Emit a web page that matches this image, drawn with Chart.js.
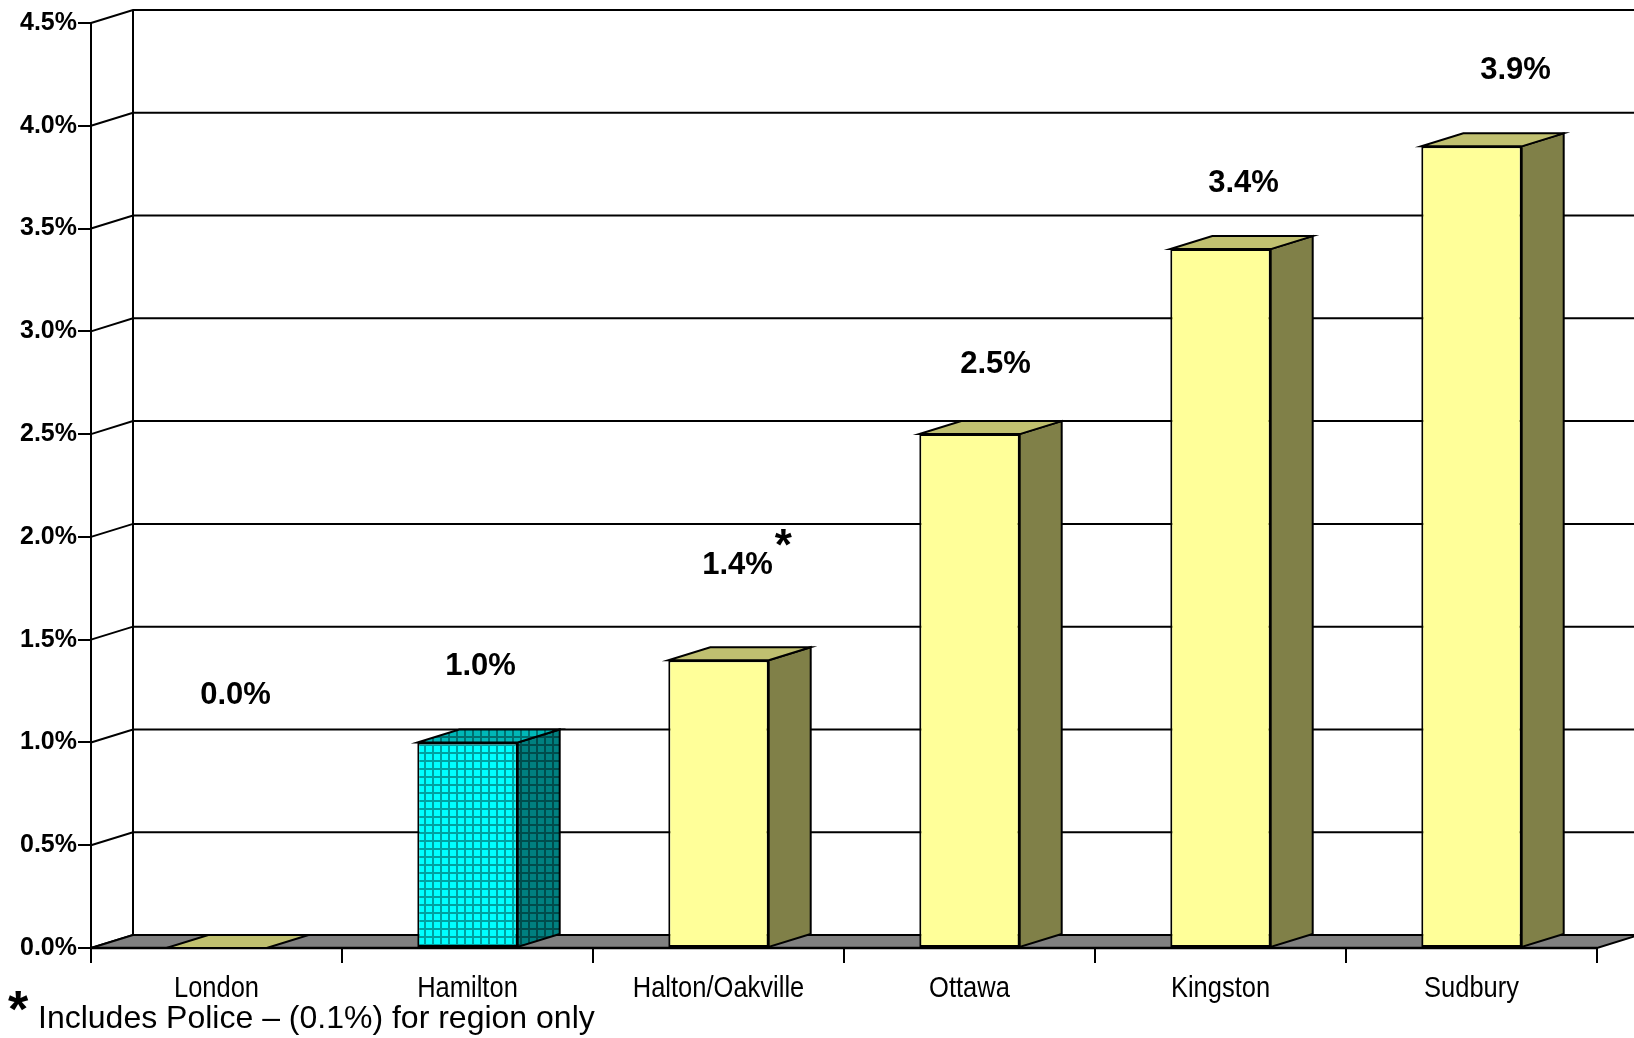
<!DOCTYPE html>
<html>
<head>
<meta charset="utf-8">
<script src="https://cdn.jsdelivr.net/npm/chart.js@4.4.1/dist/chart.umd.min.js"></script>
<style>
  html, body { margin: 0; padding: 0; background: #fff; }
  #wrap { width: 1634px; height: 1038px; }
</style>
</head>
<body>
<div id="wrap"><canvas id="chart" width="1634" height="1038"></canvas></div>
<script>
// data
const categories = ['London', 'Hamilton', 'Halton/Oakville', 'Ottawa', 'Kingston', 'Sudbury']
const values = [0.0, 1.0, 1.4, 2.5, 3.4, 3.9]
const valueLabels = ['0.0%', '1.0%', '1.4%', '2.5%', '3.4%', '3.9%']
const labelNotes = ['', '', '*', '', '', '']
const yMax = 4.5
const yStep = 0.5
const footnote = 'Includes Police \u2013 (0.1%) for region only'
const highlight = 'Hamilton'

const FONT = '"Liberation Sans", Arial, sans-serif'
const DX = 42, DY = -13

const ctx = document.getElementById('chart').getContext('2d')

function gridPattern(base, line) {
    const c = document.createElement('canvas')
    c.width = 8; c.height = 8
    const g = c.getContext('2d')
    g.fillStyle = base
    g.fillRect(0, 0, 8, 8)
    g.fillStyle = line
    g.fillRect(0, 0, 8, 2)
    g.fillRect(0, 0, 2, 8)
    return ctx.createPattern(c, 'repeat')
}

const plain = { front: '#FFFF99', side: '#808048', top: '#C0C070' }
const hi = {
    front: gridPattern('#00FFFF', '#00A0A0'),
    side: gridPattern('#008080', '#004C4C'),
    top: gridPattern('#00B8B8', '#007070')
}
const look = categories.map(c => c == highlight ? hi : plain)

function poly(c, pts, fill, lw) {
    c.beginPath()
    c.moveTo(pts[0][0], pts[0][1])
    pts.slice(1).forEach(p => c.lineTo(p[0], p[1]))
    c.closePath()
    c.fillStyle = fill
    c.fill()
    c.lineWidth = lw
    c.strokeStyle = '#000'
    c.lineJoin = 'miter'
    c.stroke()
}

const box3d = {
    id: 'box3d',
    beforeDatasetsDraw(chart) {
        const c = chart.ctx
        const {left, right} = chart.chartArea
        const ys = chart.scales.y
        c.save()
        // back wall + left wall grid
        c.strokeStyle = '#000'
        c.lineWidth = 2
        ys.ticks.forEach(t => {
            const py = ys.getPixelForValue(t.value)
            c.beginPath()
            c.moveTo(left, py)
            c.lineTo(left + DX, py + DY)
            c.lineTo(chart.width, py + DY)
            c.stroke()
        })
        c.beginPath()
        c.moveTo(left + DX, ys.getPixelForValue(yMax) + DY)
        c.lineTo(left + DX, ys.getPixelForValue(0) + DY)
        c.stroke()
        // floor
        const y0 = ys.getPixelForValue(0)
        poly(c, [[left, y0], [right, y0], [right + DX, y0 + DY], [left + DX, y0 + DY]], '#808080', 2)
        c.lineWidth = 2.5
        c.beginPath()
        c.moveTo(left, y0)
        c.lineTo(right, y0)
        c.stroke()
        c.restore()
    },
    afterDatasetsDraw(chart, args, opts) {
        const c = chart.ctx
        const meta = chart.getDatasetMeta(0)
        c.save()
        meta.data.forEach((bar, i) => {
            const {x, y, base, width} = bar.getProps(['x', 'y', 'base', 'width'], true)
            const x0 = x - width / 2, x1 = x + width / 2
            if (base - y > 0.5) {
                poly(c, [[x1, y], [x1 + DX, y + DY], [x1 + DX, base + DY], [x1, base]], look[i].side, 2)
            }
            poly(c, [[x0, y], [x1, y], [x1 + DX, y + DY], [x0 + DX, y + DY]], look[i].top, 2)
        })
        // value labels
        c.fillStyle = '#000'
        c.font = 'bold 31px ' + FONT
        c.textAlign = 'center'
        c.textBaseline = 'alphabetic'
        meta.data.forEach((bar, i) => {
            const [sx, lift] = opts.labelShift[i]
            const cx = chart.scales.x.getPixelForValue(i) + sx
            const by = bar.y - lift
            c.fillText(valueLabels[i], cx, by)
            if (labelNotes[i]) {
                const w = c.measureText(valueLabels[i]).width
                c.save()
                c.textAlign = 'left'
                c.font = 'bold 44px ' + FONT
                c.fillText(labelNotes[i], cx + w / 2 + 2, by - 14)
                c.restore()
            }
        })
        // category labels (condensed)
        c.font = '30px ' + FONT
        categories.forEach((name, i) => {
            const cx = chart.scales.x.getPixelForValue(i)
            c.save()
            c.translate(cx, 997)
            c.scale(0.85, 1)
            c.fillText(name, 0, 0)
            c.restore()
        })
        // footnote
        c.textAlign = 'left'
        c.font = 'bold 52px ' + FONT
        c.fillText('*', 8, 1027)
        c.font = '32px ' + FONT
        c.fillText(footnote, 38, 1028)
        c.restore()
    }
}

new Chart(ctx, {
    type: 'bar',
    data: {
        labels: categories,
        datasets: [{
            data: values,
            backgroundColor: look.map(l => l.front),
            borderColor: '#000',
            borderWidth: 2,
            borderSkipped: false,
            categoryPercentage: 1,
            barPercentage: 0.4
        }]
    },
    plugins: [box3d],
    options: {
        responsive: false,
        animation: false,
        devicePixelRatio: 1,
        layout: { padding: { top: 23, right: 37, left: 0, bottom: 0 } },
        plugins: {
            legend: { display: false },
            tooltip: { enabled: false },
            box3d: {
                labelShift: [[19, 244], [13, 67], [19, 86], [26, 61], [23, 57], [44, 67]]
            }
        },
        scales: {
            x: {
                offset: true,
                grid: {
                    display: true,
                    offset: true,
                    drawOnChartArea: false,
                    drawTicks: true,
                    tickLength: 15,
                    color: '#000',
                    lineWidth: 2
                },
                border: { display: false },
                ticks: { display: false },
                afterFit(s) { s.height = 90 }
            },
            y: {
                min: 0,
                max: yMax,
                ticks: {
                    stepSize: yStep,
                    color: '#000',
                    padding: 1,
                    font: { family: FONT, size: 25, weight: 'bold' },
                    callback: v => v.toFixed(1) + '%'
                },
                grid: {
                    display: true,
                    drawOnChartArea: false,
                    drawTicks: true,
                    tickLength: 13,
                    color: '#000',
                    lineWidth: 2
                },
                border: { display: true, color: '#000', width: 2 },
                afterFit(s) { s.width = 91 }
            }
        }
    }
})
</script>
</body>
</html>
